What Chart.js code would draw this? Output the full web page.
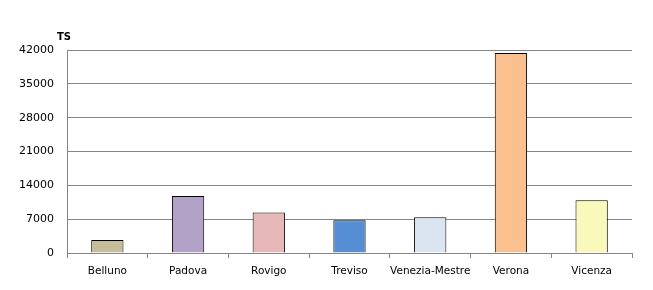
<!DOCTYPE html>
<html>
<head>
<meta charset="utf-8">
<script src="https://cdn.jsdelivr.net/npm/chart.js@4"></script>
<style>
html,body{margin:0;padding:0;background:#fff;}
#wrap{width:653px;height:290px;position:relative;}
</style>
</head>
<body>
<div id="wrap"><canvas id="c" width="653" height="290"></canvas></div>
<script>
const categories = ["Belluno", "Padova", "Rovigo", "Treviso", "Venezia-Mestre", "Verona", "Vicenza"];
const values = [2700, 11800, 8400, 6800, 7400, 41400, 10900];
const barColors = ["#C4BD97", "#B2A2C7", "#E6B9B8", "#558ED5", "#DBE5F1", "#FAC090", "#F9F9BB"];
const yTicks = [0, 7000, 14000, 21000, 28000, 35000, 42000];
const yTitle = "TS";

const titlePlugin = {
  id: 'ytitle',
  afterDraw(chart) {
    const ctx = chart.ctx;
    const area = chart.chartArea;
    ctx.save();
    ctx.font = "bold 10px 'DejaVu Sans', Verdana, sans-serif";
    ctx.fillStyle = "#000";
    ctx.textAlign = "left";
    ctx.textBaseline = "middle";
    ctx.fillText(yTitle, area.left - 10, area.top - 13);
    ctx.restore();
  }
};

new Chart(document.getElementById('c'), {
  type: 'bar',
  data: {
    labels: categories,
    datasets: [{
      data: values,
      backgroundColor: barColors,
      borderColor: "#000",
      borderWidth: 1,
      barPercentage: 0.4,
      categoryPercentage: 1.0
    }]
  },
  options: {
    responsive: false,
    animation: false,
    devicePixelRatio: 1,
    layout: { padding: { top: 50, right: 21, bottom: 0, left: 0 } },
    plugins: { legend: { display: false }, tooltip: { enabled: false } },
    scales: {
      x: {
        offset: true,
        grid: { offset: true, drawOnChartArea: false, drawTicks: true, tickLength: 5, color: "#868686" },
        border: { color: "#868686" },
        ticks: { color: "#000", padding: 7, font: { family: "'DejaVu Sans', Verdana, sans-serif", size: 10.5 }, maxRotation: 0, autoSkip: false },
        afterFit(s) { s.height = 37; }
      },
      y: {
        min: 0, max: 42000,
        afterBuildTicks(s) { s.ticks = yTicks.map(v => ({ value: v })); },
        grid: { color: "#868686", drawTicks: false },
        border: { color: "#868686" },
        ticks: { color: "#000", padding: 13, font: { family: "'DejaVu Sans', Verdana, sans-serif", size: 11 }, callback: v => String(v) },
        afterFit(s) { s.width = 67; }
      }
    }
  },
  plugins: [titlePlugin]
});
</script>
</body>
</html>
